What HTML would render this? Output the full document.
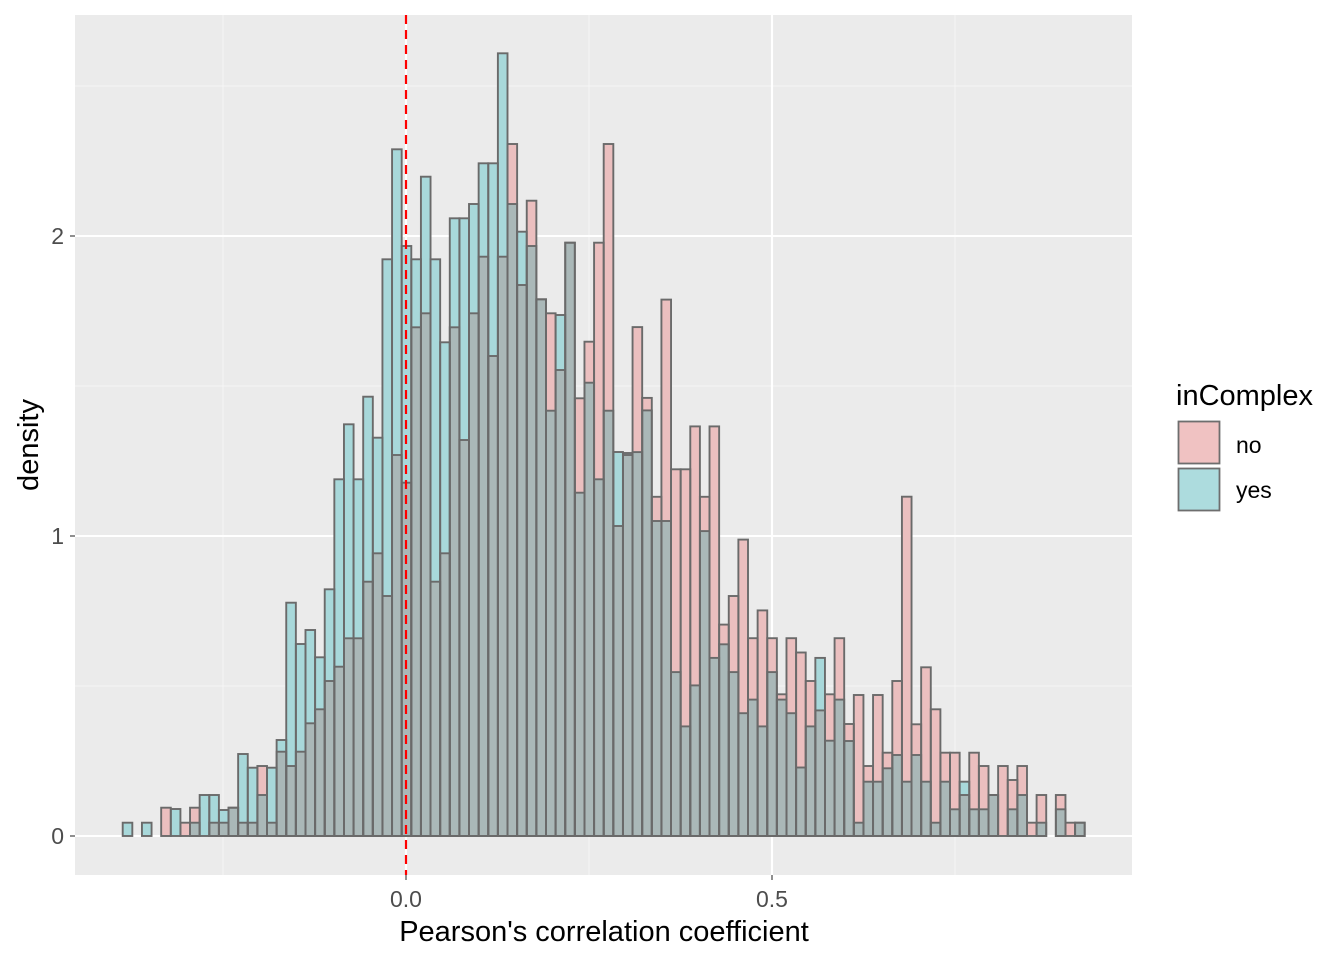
<!DOCTYPE html>
<html><head><meta charset="utf-8"><style>
html,body{margin:0;padding:0;background:#fff;}
svg{display:block;font-family:"Liberation Sans",Arial,sans-serif;}
</style></head><body>
<svg id="s" width="1344" height="960" viewBox="0 0 1344 960" xmlns="http://www.w3.org/2000/svg">
<rect x="0" y="0" width="1344" height="960" fill="#fff"/>
<rect x="75" y="15" width="1057" height="860" fill="#EBEBEB"/>
<g stroke="#F5F5F5" stroke-width="1.1">
<line x1="75" x2="1132" y1="686" y2="686"/><line x1="75" x2="1132" y1="386" y2="386"/><line x1="75" x2="1132" y1="86" y2="86"/>
<line x1="223" x2="223" y1="15" y2="875"/><line x1="589" x2="589" y1="15" y2="875"/><line x1="955" x2="955" y1="15" y2="875"/>
</g>
<g stroke="#fff" stroke-width="2.1">
<line x1="75" x2="1132" y1="836" y2="836"/><line x1="75" x2="1132" y1="536" y2="536"/><line x1="75" x2="1132" y1="236" y2="236"/>
<line x1="406" x2="406" y1="15" y2="875"/><line x1="772" x2="772" y1="15" y2="875"/>
</g>
<g id="bars"></g>
<line x1="406" x2="406" y1="15" y2="875" stroke="#FF0000" stroke-width="2.2" stroke-dasharray="9,6"/>
<g stroke="#333" stroke-width="1.1">
<line x1="70" x2="75" y1="836" y2="836"/><line x1="70" x2="75" y1="536" y2="536"/><line x1="70" x2="75" y1="236" y2="236"/>
<line x1="406" x2="406" y1="875" y2="880"/><line x1="772" x2="772" y1="875" y2="880"/>
</g>
<g fill="#4D4D4D" font-size="23">
<text x="64" y="844" text-anchor="end">0</text>
<text x="64" y="544" text-anchor="end">1</text>
<text x="64" y="244" text-anchor="end">2</text>
<text x="406" y="907" text-anchor="middle">0.0</text>
<text x="772" y="907" text-anchor="middle">0.5</text>
</g>
<text x="604" y="941" text-anchor="middle" font-size="29" fill="#000">Pearson's correlation coefficient</text>
<text transform="translate(38,445) rotate(-90)" text-anchor="middle" font-size="29" fill="#000">density</text>
<text x="1176" y="405" font-size="29" fill="#000">inComplex</text>
<rect x="1178.5" y="421.5" width="41" height="42" fill="#F0C2C2" stroke="#6E6E6E" stroke-width="1.8"/>
<rect x="1178.5" y="468.5" width="41" height="42" fill="#ADDCDE" stroke="#6E6E6E" stroke-width="1.8"/>
<text x="1236" y="453" font-size="23" fill="#000">no</text>
<text x="1236" y="498" font-size="23" fill="#000">yes</text>
</svg>
<script>
(function(){
var no=[836,836,836,836,807.7,836,822.7,807.7,836,822.7,822.7,807.7,822.7,822.7,766,822.7,751.7,766,751.7,723.3,709.3,681,666.7,638.3,638.3,581.7,553.3,596,455,482.7,327.3,313.3,581.7,553.3,327.3,440,313.3,256.7,356,256.7,144,285,200.7,299.3,313.3,370,242.7,398.3,341.7,242.7,144,526,455,327.1,397.9,496.8,299.6,469.3,469.3,426.4,496.8,426.4,624.6,596,539.6,638.2,610.4,638.2,694.3,638.2,652.5,681,710.4,694.3,638.2,724,695,766,695,752.7,681,496.7,724.3,667.3,709.3,752.7,752.7,795,752.7,766,795,766,780,766,822.7,795,836,795,822.7,822.7];
var yes=[822.7,836,822.7,836,836,809,836,822.7,795,795,810,807.7,754,767.7,795,767.7,740,602.7,644,630,657.3,589.3,479.3,424.3,479.3,396.7,437.7,259.3,149.3,246,259.3,176.7,259.3,342.3,218.3,218.3,204,163.3,163.3,53.3,204,231.7,246,299.3,410.7,315,242.7,492.7,382.7,479.3,410.7,452,453,452.1,410.4,521,521,672.1,726.4,685.4,531.1,657.9,644.3,672.1,713.2,699.6,726.4,672.1,699.6,713.2,767.5,726.4,657.9,740.7,699.6,741,822.7,781.7,781.7,768.3,755,781.7,755,781.7,822.7,781.7,809.3,781.7,809.3,809.3,795,836,809.3,795,836,822.7,836,809.3,836,822.7];
var x0=122.7,w=9.62,B=836,h='';
var P='#EBBFBF',Y='#A8D8DA',G='#AAB8B8',S='#6A6A6A';
for(var i=0;i<100;i++){
 var x=x0+i*w,a=no[i],b=yes[i],tp=Math.min(a,b),lw=Math.max(a,b);
 if(tp<B){
  h+='<rect x="'+x+'" y="'+tp+'" width="'+w+'" height="'+(lw-tp)+'" fill="'+(a<b?P:Y)+'"/>';
  if(lw<B) h+='<rect x="'+x+'" y="'+lw+'" width="'+w+'" height="'+(B-lw)+'" fill="'+G+'"/>';
 }
}
for(var i=0;i<100;i++){
 var x=x0+i*w;
 [no[i],yes[i]].forEach(function(t){
  h+='<rect x="'+x+'" y="'+t+'" width="'+w+'" height="'+(B-t)+'" fill="none" stroke="'+S+'" stroke-width="1.9"/>';
 });
}
document.getElementById('bars').innerHTML=h;
})();
</script>
</body></html>
